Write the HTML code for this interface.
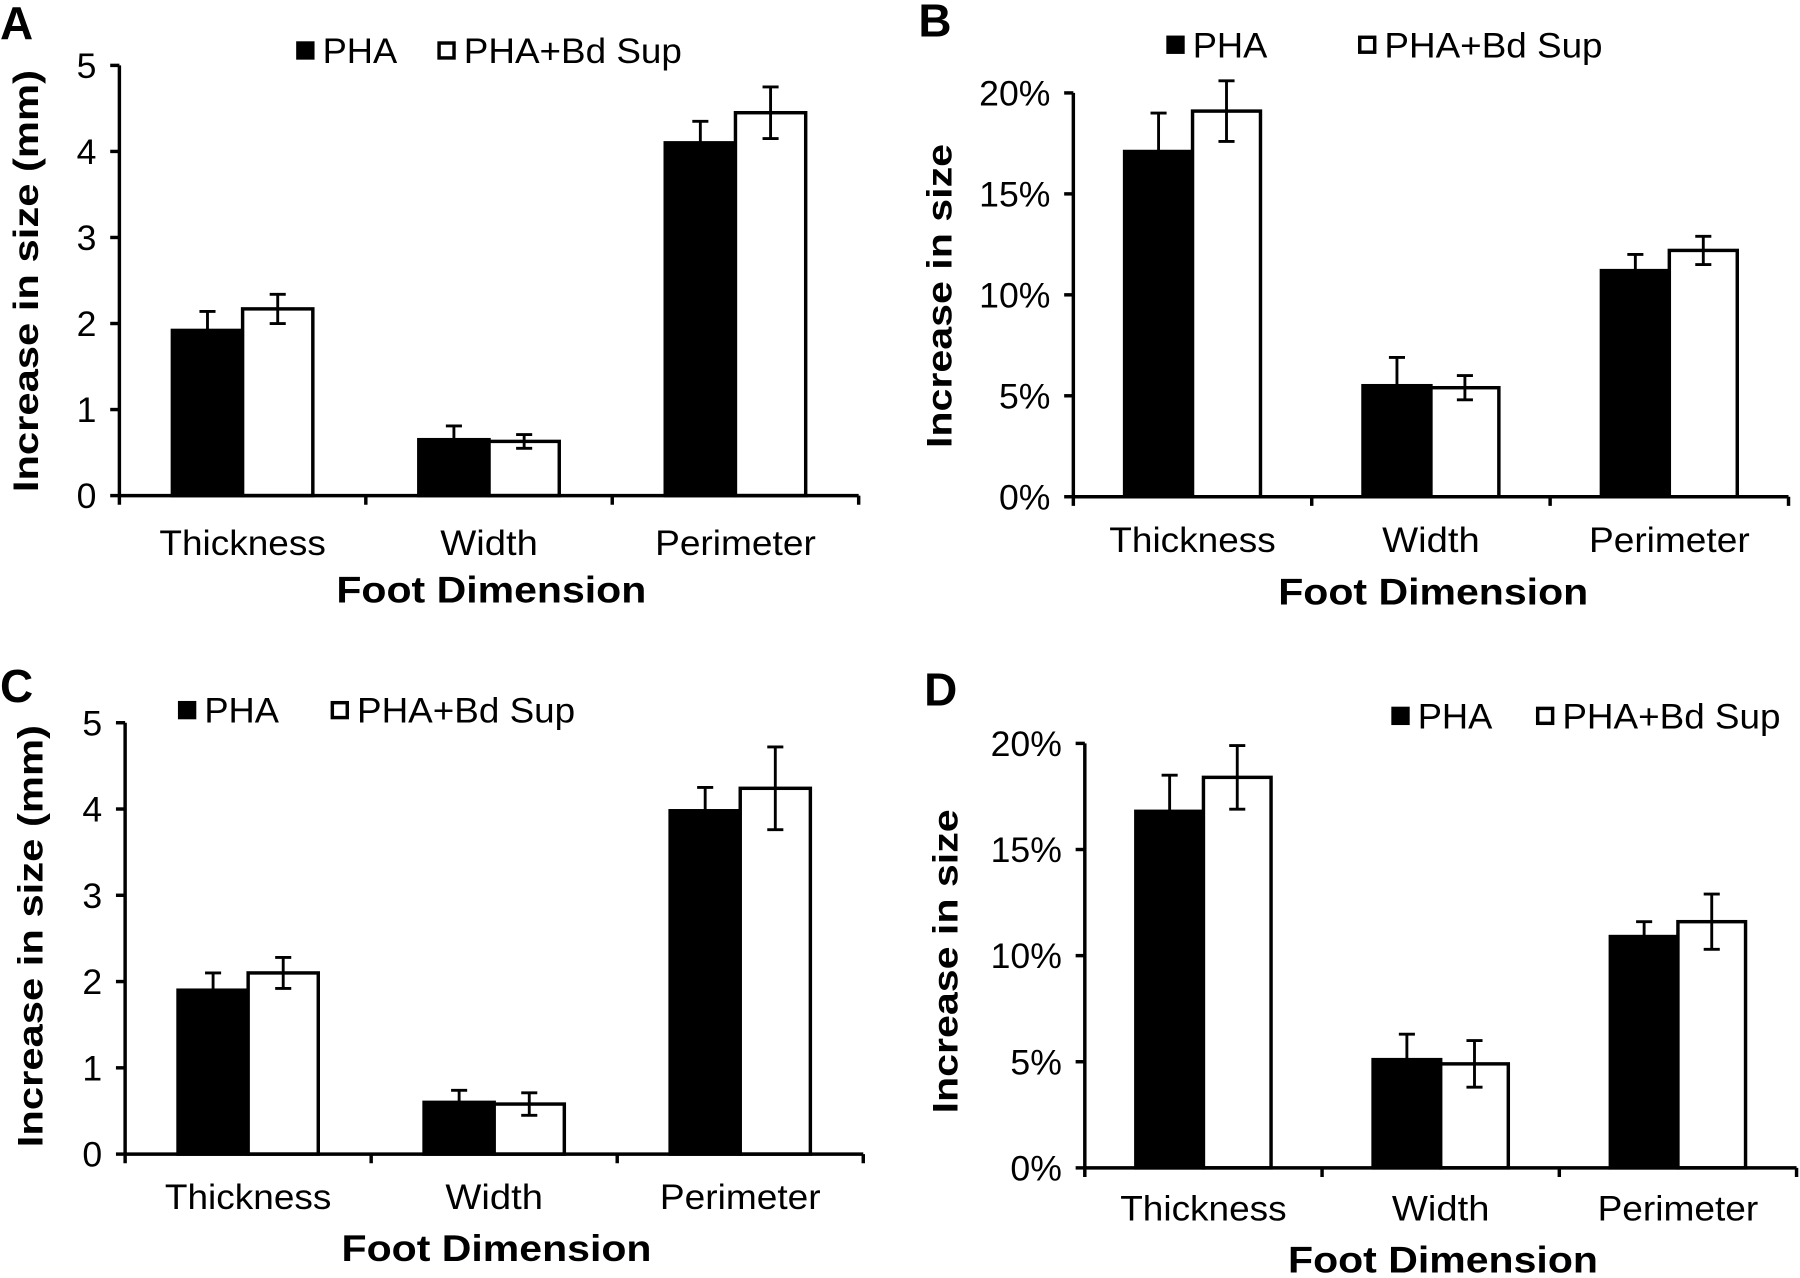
<!DOCTYPE html>
<html><head><meta charset="utf-8"><style>
html,body{margin:0;padding:0;background:#fff}
svg{display:block}
text{font-family:"Liberation Sans Narrow","Liberation Sans",sans-serif;fill:#000}
.b{font-family:"Liberation Sans",sans-serif;font-weight:bold}
</style></head><body>
<svg id="fig" width="1800" height="1278" viewBox="0 0 1568 1114" preserveAspectRatio="none" xmlns="http://www.w3.org/2000/svg"></svg>
<script>
const categories = ["Thickness","Width","Perimeter"];
const seriesNames = ["PHA","PHA+Bd Sup"];
const aPHA = [1.92,0.65,4.1], aPHAerr=[0.22,0.16,0.25];
const aBd = [2.17,0.63,4.45], aBderr=[0.17,0.08,0.3];
const bPHA = [17.1,5.5,11.2], bPHAerr=[1.9,1.4,0.8];
const bBd = [19.1,5.4,12.2], bBderr=[1.5,0.6,0.7];
const cPHA = [1.9,0.6,3.98], cPHAerr=[0.2,0.14,0.27];
const cBd = [2.1,0.58,4.24], cBderr=[0.18,0.13,0.48];
const dPHA = [16.8,5.1,10.9], dPHAerr=[1.7,1.2,0.7];
const dBd = [18.4,4.9,11.6], dBderr=[1.5,1.1,1.3];
const mmTicks = [0,1,2,3,4,5];
const mmTickLabels = ["0","1","2","3","4","5"];
const pctTicks = [0,5,10,15,20];
const pctTickLabels = ["0%","5%","10%","15%","20%"];

const NS="http://www.w3.org/2000/svg";
const svg=document.getElementById('fig');
function mk(tag,attrs,parent,txt){const e=document.createElementNS(NS,tag);for(const k in attrs)e.setAttribute(k,attrs[k]);if(txt!==undefined)e.textContent=txt;(parent||svg).appendChild(e);return e;}
const catLen=[145,85,140];

const panels=[
 {id:'a',letter:'A',lx:0,ly:34,ax:104,x1:748,y0:432,yTop:57,max:5,ticks:mmTicks,labels:mmTickLabels,pha:aPHA,phaE:aPHAerr,bd:aBd,bdE:aBderr,ytitle:"Increase in size (mm)",ytx:22,yty:245,ytl:368,catY:484,titY:525,legY:44,leg1:258,leg2:381},
 {id:'b',letter:'B',lx:800,ly:32,ax:935,x1:1558,y0:433,yTop:81,max:20,ticks:pctTicks,labels:pctTickLabels,pha:bPHA,phaE:bPHAerr,bd:bBd,bdE:bBderr,ytitle:"Increase in size",ytx:818,yty:258,ytl:265,catY:481,titY:527,legY:39,leg1:1016,leg2:1183},
 {id:'c',letter:'C',lx:0,ly:612,ax:109,x1:752,y0:1006,yTop:630,max:5,ticks:mmTicks,labels:mmTickLabels,pha:cPHA,phaE:cPHAerr,bd:cBd,bdE:cBderr,ytitle:"Increase in size (mm)",ytx:26,yty:816,ytl:368,catY:1054,titY:1099,legY:619,leg1:155,leg2:288},
 {id:'d',letter:'D',lx:805,ly:615,ax:945,x1:1565,y0:1018,yTop:648,max:20,ticks:pctTicks,labels:pctTickLabels,pha:dPHA,phaE:dPHAerr,bd:dBd,bdE:dBderr,ytitle:"Increase in size",ytx:823,yty:838,ytl:265,catY:1064,titY:1109,legY:624,leg1:1212,leg2:1338}
];

panels.forEach(p=>{
  const g=mk('g',{});
  
  
  const y=v=>p.y0-(v/p.max)*(p.y0-p.yTop);
  const n=categories.length, cw=(p.x1-p.ax)/n;
  const bw=cw*0.285;
  const lt=mk('text',{x:p.lx,y:p.ly,class:'b','font-size':40},g,p.letter);
  
  
  for(let i=0;i<n;i++){
    const cx=p.ax+cw*(i+0.5);
    [[p.pha,p.phaE,'#000',cx-bw],[p.bd,p.bdE,'#fff',cx]].forEach((s,si)=>{
      const v=s[0][i],e=s[1][i];
      const r=mk('rect',{x:s[3],y:y(v),width:bw,height:p.y0-y(v),fill:s[2],stroke:'#000','stroke-width':3},g);
      
      
      const ex=s[3]+bw/2;
      const eb=mk('path',{d:`M${ex},${y(v-e)}V${y(v+e)}M${ex-7},${y(v+e)}H${ex+7}M${ex-7},${y(v-e)}H${ex+7}`,stroke:'#000','stroke-width':2.5,fill:'none'},g);
      
      
    });
    const cl=mk('text',{x:cx,y:p.catY,'text-anchor':'middle','font-size':31,textLength:catLen[i],lengthAdjust:'spacingAndGlyphs'},g,categories[i]);
    
    
  }
  const ya=mk('path',{d:`M${p.ax},${p.yTop}V${p.y0}`,stroke:'#000','stroke-width':3},g);
  
  
  let xd=`M${p.ax},${p.y0}H${p.x1}`;
  for(let i=0;i<=n;i++){const tx=p.ax+cw*i;xd+=`M${tx},${p.y0}V${p.y0+8}`;}
  const xa=mk('path',{d:xd,stroke:'#000','stroke-width':3},g);
  
  
  p.ticks.forEach((t,i)=>{
    const tk=mk('path',{d:`M${p.ax-8},${y(t)}H${p.ax}`,stroke:'#000','stroke-width':3},g);
    
    
    const tl=mk('text',{x:p.ax-20,y:y(t)+11,'text-anchor':'end','font-size':31},g,p.labels[i]);
    
    
  });
  const yt=mk('text',{x:p.ytx,y:p.yty,class:'b','font-size':31,'text-anchor':'middle',transform:`rotate(-90 ${p.ytx} ${p.yty})`,textLength:p.ytl,lengthAdjust:'spacingAndGlyphs',dy:11},g,p.ytitle);
  
  
  const xt=mk('text',{x:(p.ax+p.x1)/2+2,y:p.titY,class:'b','font-size':32,'text-anchor':'middle',textLength:270,lengthAdjust:'spacingAndGlyphs'},g,"Foot Dimension");
  
  
  [[p.leg1,'#000',seriesNames[0],65],[p.leg2,'#fff',seriesNames[1],190]].forEach((l,li)=>{
    const lg=mk('g',{},g);
    
    
    mk('rect',{x:l[0]+1.5,y:p.legY-6.5,width:13,height:13,fill:l[1],stroke:'#000','stroke-width':3},lg);
    mk('text',{x:l[0]+23,y:p.legY+11,'font-size':31,textLength:l[3],lengthAdjust:'spacingAndGlyphs'},lg,l[2]);
  });
});
</script>
</body></html>
